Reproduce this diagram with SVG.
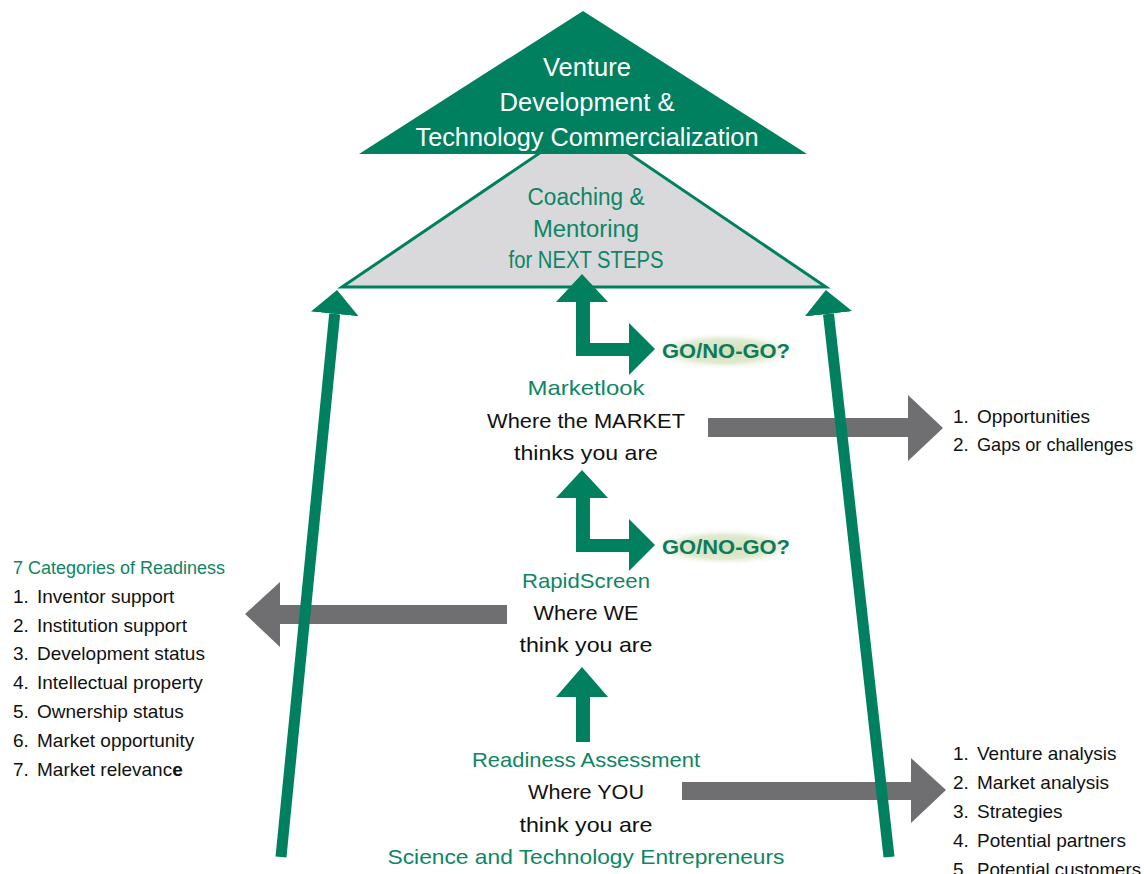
<svg xmlns="http://www.w3.org/2000/svg" width="1144" height="874" viewBox="0 0 1144 874">
<defs>
<style>
text{font-family:"Liberation Sans",Arial,sans-serif}
.w{fill:#ffffff;font-size:25px;text-anchor:middle}
.gc{fill:#0e8565;font-size:23px;text-anchor:middle}
.g{fill:#0e8565;font-size:21px;text-anchor:middle}
.k{fill:#111111;font-size:21px;text-anchor:middle}
.li{fill:#111111;font-size:19px}
.lh{fill:#0e8565;font-size:18px}
.go{fill:#0e7a5c;font-size:20px;font-weight:bold}
.garrow{fill:#6f6f71}
.grn{fill:#00805f}
.side{stroke:#00805f;stroke-width:11;fill:none}
</style>
<radialGradient id="glow" cx="0.5" cy="0.5" r="0.5">
<stop offset="0" stop-color="#d2e0b8"/>
<stop offset="0.65" stop-color="#e0ead0"/>
<stop offset="1" stop-color="#f4f7ee" stop-opacity="0"/>
</radialGradient>
<marker id="gh" markerUnits="userSpaceOnUse" markerWidth="26" markerHeight="48" refX="0" refY="24" orient="auto">
<path d="M0,0 L24,24 L0,48 Z" fill="#00805f"/>
</marker>
</defs>

<g id="coaching">
<polygon points="342,287 584,123 826,287" fill="#d9d9db" stroke="#00805f" stroke-width="3" stroke-linejoin="miter"/>
<text class="gc" x="586" y="205" textLength="117" lengthAdjust="spacingAndGlyphs">Coaching &amp;</text>
<text class="gc" x="586" y="237" textLength="106" lengthAdjust="spacingAndGlyphs">Mentoring</text>
<text class="gc" x="586" y="268" textLength="155" lengthAdjust="spacingAndGlyphs">for NEXT STEPS</text>
</g>

<g id="venture">
<polygon points="359,154 583,11 807,154" fill="#00805f"/>
<text class="w" x="587" y="76" textLength="88" lengthAdjust="spacingAndGlyphs">Venture</text>
<text class="w" x="587" y="111" textLength="175" lengthAdjust="spacingAndGlyphs">Development &amp;</text>
<text class="w" x="587" y="146" textLength="343" lengthAdjust="spacingAndGlyphs">Technology Commercialization</text>
</g>

<g id="glows">
<ellipse cx="725" cy="351" rx="73" ry="18" fill="url(#glow)"/>
<ellipse cx="725" cy="547" rx="73" ry="18" fill="url(#glow)"/>
</g>

<g id="connectors">
<polygon class="garrow" points="708,418 908,418 908,395 943,428 908,461 908,437 708,437"/>
<polygon class="garrow" points="507,605 280,605 280,582 245,614 280,647 280,624 507,624"/>
<polygon class="garrow" points="682,782 911,782 911,758 946,790 911,823 911,800 682,800"/>
<polygon class="grn" points="576,356 576,302 556,302 582,274 608,302 590,302 590,343 629,343 629,323 655,349 629,375 629,356"/>
<polygon class="grn" points="576,552 576,498 556,498 582,470 608,498 590,498 590,539 629,539 629,519 655,545 629,571 629,552"/>
<polygon class="grn" points="576,742 576,697 556,697 582,667 608,697 590,697 590,742"/>
<line class="side" x1="281" y1="857" x2="334.7" y2="313.9" marker-end="url(#gh)"/>
<line class="side" x1="889" y1="857" x2="828.5" y2="313.9" marker-end="url(#gh)"/>
</g>

<g id="gonogo1">
<text class="go" x="662" y="358" textLength="128" lengthAdjust="spacingAndGlyphs">GO/NO-GO?</text>
</g>
<g id="gonogo2">
<text class="go" x="662" y="554" textLength="128" lengthAdjust="spacingAndGlyphs">GO/NO-GO?</text>
</g>

<g id="marketlook">
<text class="g" x="586" y="395" textLength="117" lengthAdjust="spacingAndGlyphs">Marketlook</text>
<text class="k" x="586" y="428" textLength="198" lengthAdjust="spacingAndGlyphs">Where the MARKET</text>
<text class="k" x="586" y="460" textLength="144" lengthAdjust="spacingAndGlyphs">thinks you are</text>
</g>

<g id="rapidscreen">
<text class="g" x="586" y="588" textLength="128" lengthAdjust="spacingAndGlyphs">RapidScreen</text>
<text class="k" x="586" y="620" textLength="105" lengthAdjust="spacingAndGlyphs">Where WE</text>
<text class="k" x="586" y="652" textLength="133" lengthAdjust="spacingAndGlyphs">think you are</text>
</g>

<g id="readiness">
<text class="g" x="586" y="767" textLength="228" lengthAdjust="spacingAndGlyphs">Readiness Assessment</text>
<text class="k" x="586" y="799" textLength="116" lengthAdjust="spacingAndGlyphs">Where YOU</text>
<text class="k" x="586" y="832" textLength="133" lengthAdjust="spacingAndGlyphs">think you are</text>
<text class="g" x="586" y="864" textLength="397" lengthAdjust="spacingAndGlyphs">Science and Technology Entrepreneurs</text>
</g>

<g id="categories">
<text class="lh" x="13" y="574">7 Categories of Readiness</text>
<text class="li" y="603"><tspan x="13">1.</tspan><tspan x="37">Inventor support</tspan></text>
<text class="li" y="632"><tspan x="13">2.</tspan><tspan x="37">Institution support</tspan></text>
<text class="li" y="660"><tspan x="13">3.</tspan><tspan x="37">Development status</tspan></text>
<text class="li" y="689"><tspan x="13">4.</tspan><tspan x="37">Intellectual property</tspan></text>
<text class="li" y="718"><tspan x="13">5.</tspan><tspan x="37">Ownership status</tspan></text>
<text class="li" y="747"><tspan x="13">6.</tspan><tspan x="37">Market opportunity</tspan></text>
<text class="li" y="776"><tspan x="13">7.</tspan><tspan x="37">Market relevanc</tspan><tspan font-weight="bold">e</tspan></text>
</g>

<g id="market-results">
<text class="li" y="423"><tspan x="953">1.</tspan><tspan x="977">Opportunities</tspan></text>
<text class="li" y="451"><tspan x="953">2.</tspan><tspan x="977" textLength="156" lengthAdjust="spacingAndGlyphs">Gaps or challenges</tspan></text>
</g>

<g id="assessment-results">
<text class="li" y="760"><tspan x="953">1.</tspan><tspan x="977">Venture analysis</tspan></text>
<text class="li" y="789"><tspan x="953">2.</tspan><tspan x="977">Market analysis</tspan></text>
<text class="li" y="818"><tspan x="953">3.</tspan><tspan x="977">Strategies</tspan></text>
<text class="li" y="847"><tspan x="953">4.</tspan><tspan x="977">Potential partners</tspan></text>
<text class="li" y="876"><tspan x="953">5.</tspan><tspan x="977" textLength="164" lengthAdjust="spacingAndGlyphs">Potential customers</tspan></text>
</g>
</svg>
